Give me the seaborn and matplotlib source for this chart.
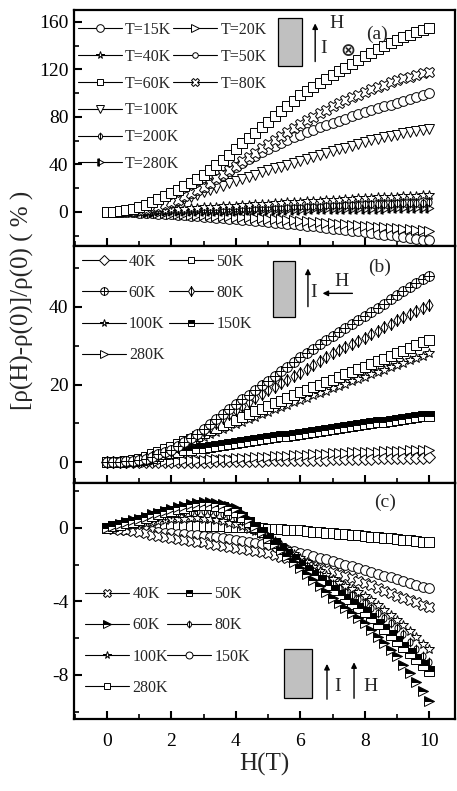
import numpy as np
import pandas as pd
import seaborn as sns
import matplotlib.pyplot as plt
from matplotlib.path import Path
from matplotlib.lines import Line2D
from matplotlib.patches import Rectangle
from matplotlib.ticker import MultipleLocator

# magnetic field grid (T)
H = [0, 0.2, 0.4, 0.6, 0.8, 1, 1.2, 1.4, 1.6, 1.8, 2, 2.2, 2.4, 2.6, 2.8,
     3, 3.2, 3.4, 3.6, 3.8, 4, 4.2, 4.4, 4.6, 4.8, 5, 5.2, 5.4, 5.6, 5.8,
     6, 6.2, 6.4, 6.6, 6.8, 7, 7.2, 7.4, 7.6, 7.8, 8, 8.2, 8.4, 8.6, 8.8,
     9, 9.2, 9.4, 9.6, 9.8, 10]

# panel (a): I up, H perpendicular (into page)
a_15K = [0, -0.05, -0.15, -0.3, -0.45, -0.6, -0.85, -1.1, -1.4, -1.7,
         -2, -2.4, -2.8, -3.2, -3.6, -4, -4.4, -4.8, -5.2, -5.6,
         -6, -6.5, -7, -7.5, -8, -8.5, -9, -9.5, -10, -10.5,
         -11, -11.6, -12.2, -12.8, -13.4, -14, -14.6, -15.2, -15.8, -16.4,
         -17, -17.7, -18.4, -19.1, -19.8, -20.5, -21.2, -21.9, -22.6, -23.3, -24]
a_20K = [0, -0.05, -0.15, -0.25, -0.35, -0.5, -0.7, -0.9, -1.1, -1.3,
         -1.5, -1.75, -2, -2.3, -2.55, -2.8, -3.05, -3.3, -3.5, -3.75,
         -4, -4.35, -4.7, -5, -5.35, -5.7, -6.05, -6.4, -6.8, -7.15,
         -7.5, -7.9, -8.3, -8.7, -9.1, -9.5, -9.9, -10.3, -10.7, -11.1,
         -11.5, -11.95, -12.4, -12.8, -13.25, -13.7, -14.15, -14.6, -15.1, -15.55, -16]
a_40K = [0, 0.05, 0.15, 0.3, 0.5, 0.7, 0.95, 1.25, 1.55, 1.8,
         2.1, 2.4, 2.7, 3.1, 3.4, 3.7, 4, 4.3, 4.7, 5,
         5.3, 5.6, 5.9, 6.3, 6.6, 6.9, 7.2, 7.5, 7.9, 8.2,
         8.5, 8.8, 9.1, 9.5, 9.8, 10.1, 10.4, 10.7, 11.1, 11.4,
         11.7, 11.9, 12.2, 12.4, 12.7, 12.9, 13.1, 13.3, 13.6, 13.8, 14]
a_50K = [0, 0.1, 0.3, 0.6, 1, 1.5, 2.5, 3.8, 5.2, 6.6,
         8, 10.4, 13, 15.6, 18.3, 21, 24.5, 28, 31.4, 34.7,
         38, 41.2, 44.3, 47.3, 50.2, 53, 55.5, 58, 60.5, 62.8,
         65, 67.1, 69.1, 71.1, 73.1, 75, 76.8, 78.6, 80.4, 82.2,
         84, 85.6, 87.2, 88.8, 90.4, 92, 93.6, 95.2, 96.8, 98.4, 100]
a_60K = [0, 0.2, 0.7, 1.6, 2.7, 4, 5.9, 8.2, 10.8, 13.3,
         16, 18.8, 21.7, 24.7, 27.8, 31, 35, 39.3, 43.7, 48.3,
         53, 57.6, 62.2, 66.8, 71.4, 76, 80.5, 85, 89.4, 93.7,
         98, 101.6, 105.1, 108.5, 111.8, 115, 118.2, 121.4, 124.6, 127.8,
         131, 134, 136.9, 139.7, 142.4, 145, 147.2, 149.3, 151.3, 153.2, 155]
a_80K = [0, 0.1, 0.3, 0.6, 1, 1.5, 2.5, 3.8, 5.2, 6.6,
         8, 10.4, 13, 15.6, 18.3, 21, 24.6, 28.2, 31.8, 35.4,
         39, 42.6, 46.2, 49.8, 53.4, 57, 60.5, 63.9, 67.3, 70.7,
         74, 77.1, 80.2, 83.2, 86.1, 89, 91.5, 94, 96.5, 98.8,
         101, 103.1, 105.1, 107.1, 109.1, 111, 112.5, 113.9, 115.3, 116.7, 118]
a_100K = [0, 0.1, 0.3, 0.6, 1, 1.5, 2.4, 3.5, 4.6, 5.8,
          7, 8.8, 10.7, 12.6, 14.5, 16.5, 18.4, 20.3, 22.2, 24.1,
          26, 27.8, 29.6, 31.4, 33.2, 35, 36.6, 38.2, 39.8, 41.4,
          43, 44.6, 46.2, 47.8, 49.4, 51, 52.6, 54.2, 55.8, 57.4,
          59, 60.3, 61.5, 62.7, 63.9, 65, 66, 67, 68, 69, 70]
a_200K = [0, 0.1, 0.2, 0.35, 0.5, 0.7, 0.85, 1, 1.2, 1.35,
          1.5, 1.7, 1.85, 2, 2.2, 2.3, 2.5, 2.65, 2.8, 3,
          3.1, 3.3, 3.45, 3.6, 3.8, 3.9, 4.1, 4.25, 4.4, 4.6,
          4.7, 4.9, 5.05, 5.2, 5.4, 5.5, 5.7, 5.85, 6, 6.2,
          6.3, 6.45, 6.6, 6.8, 6.95, 7.1, 7.3, 7.5, 7.65, 7.8, 8]
a_280K = [0, 0, 0.05, 0.1, 0.15, 0.2, 0.25, 0.3, 0.35, 0.4,
          0.5, 0.55, 0.6, 0.7, 0.75, 0.8, 0.9, 0.95, 1, 1.1,
          1.15, 1.2, 1.3, 1.35, 1.4, 1.5, 1.55, 1.65, 1.7, 1.8,
          1.85, 1.9, 2, 2.05, 2.15, 2.2, 2.3, 2.35, 2.45, 2.5,
          2.6, 2.65, 2.75, 2.8, 2.9, 3, 3.05, 3.15, 3.25, 3.3, 3.4]

# panel (b): I up, H in-plane perpendicular
b_40K = [0, 0, 0, 0, 0, 0, 0, 0.05, 0.05, 0.1,
         0.1, 0.1, 0.15, 0.15, 0.2, 0.2, 0.2, 0.25, 0.25, 0.3,
         0.3, 0.35, 0.4, 0.45, 0.45, 0.5, 0.5, 0.55, 0.55, 0.6,
         0.6, 0.65, 0.7, 0.7, 0.75, 0.8, 0.85, 0.9, 0.9, 0.95,
         1, 1, 1.05, 1.05, 1.1, 1.1, 1.15, 1.2, 1.2, 1.25, 1.3]
b_50K = [0, 0.05, 0.15, 0.3, 0.5, 0.8, 1.4, 2.1, 2.7, 3.4,
         4, 4.7, 5.4, 6.1, 6.8, 7.5, 8.2, 8.9, 9.6, 10.3,
         11, 11.7, 12.4, 13.1, 13.8, 14.5, 15.2, 15.9, 16.6, 17.3,
         18, 18.6, 19.3, 19.9, 20.6, 21.2, 21.9, 22.6, 23.2, 23.9,
         24.6, 25.3, 26, 26.6, 27.3, 28, 28.7, 29.4, 30.1, 30.8, 31.5]
b_60K = [0, 0.05, 0.1, 0.25, 0.4, 0.6, 1, 1.5, 2.1, 2.7,
         3.3, 4.3, 5.3, 6.4, 7.4, 8.5, 9.8, 11.1, 12.4, 13.7,
         15, 16.2, 17.4, 18.6, 19.8, 21, 22.2, 23.4, 24.6, 25.8,
         27, 28.1, 29.2, 30.3, 31.4, 32.5, 33.5, 34.5, 35.5, 36.5,
         37.5, 38.6, 39.7, 40.8, 41.9, 43, 44, 45, 46, 47, 48]
b_80K = [0, 0.05, 0.1, 0.2, 0.35, 0.5, 0.9, 1.4, 1.9, 2.4,
         3, 4, 5, 6, 7, 8, 9.1, 10.2, 11.3, 12.4,
         13.5, 14.5, 15.5, 16.5, 17.5, 18.5, 19.4, 20.3, 21.2, 22.1,
         23, 24, 25, 26, 27, 28, 28.8, 29.6, 30.4, 31.2,
         32, 32.9, 33.8, 34.7, 35.6, 36.5, 37.3, 38.1, 38.9, 39.7, 40.5]
b_100K = [0, 0.05, 0.15, 0.3, 0.5, 0.7, 1.2, 1.8, 2.4, 2.9,
          3.5, 4.1, 4.7, 5.3, 5.9, 6.5, 7.2, 7.8, 8.5, 9.1,
          9.8, 10.4, 11.1, 11.7, 12.4, 13, 13.6, 14.2, 14.8, 15.4,
          16, 16.6, 17.2, 17.8, 18.4, 19, 19.6, 20.2, 20.8, 21.4,
          22, 22.6, 23.2, 23.8, 24.4, 25, 25.6, 26.2, 26.8, 27.4, 28]
b_150K = [0, 0.05, 0.15, 0.25, 0.35, 0.5, 0.8, 1.2, 1.7, 2.1,
          2.5, 2.8, 3.1, 3.3, 3.6, 3.8, 4.05, 4.3, 4.5, 4.75,
          5, 5.25, 5.5, 5.7, 5.95, 6.2, 6.45, 6.7, 6.9, 7.15,
          7.4, 7.65, 7.9, 8.1, 8.35, 8.6, 8.85, 9.1, 9.3, 9.55,
          9.8, 10.05, 10.3, 10.5, 10.75, 11, 11.2, 11.4, 11.6, 11.8, 12]
b_280K = [0, 0, 0.05, 0.1, 0.1, 0.15, 0.2, 0.25, 0.3, 0.35,
          0.4, 0.45, 0.5, 0.6, 0.65, 0.7, 0.8, 0.85, 0.95, 1,
          1.1, 1.2, 1.25, 1.35, 1.4, 1.5, 1.6, 1.65, 1.75, 1.8,
          1.9, 2, 2.05, 2.15, 2.2, 2.3, 2.4, 2.45, 2.55, 2.6,
          2.7, 2.75, 2.8, 2.9, 2.95, 3, 3.05, 3.1, 3.2, 3.25, 3.3]

# panel (c): I and H parallel
c_40K = [0, -0.05, -0.1, -0.15, -0.2, -0.25, -0.31, -0.37, -0.43, -0.49,
         -0.55, -0.6, -0.65, -0.7, -0.75, -0.8, -0.86, -0.92, -0.98, -1.04,
         -1.1, -1.16, -1.22, -1.28, -1.34, -1.4, -1.49, -1.58, -1.67, -1.76,
         -1.85, -1.96, -2.07, -2.18, -2.29, -2.4, -2.52, -2.64, -2.76, -2.88,
         -3, -3.14, -3.28, -3.42, -3.56, -3.7, -3.82, -3.94, -4.06, -4.18, -4.3]
c_50K = [0, 0.08, 0.16, 0.25, 0.33, 0.42, 0.53, 0.63, 0.73, 0.83,
         0.92, 1.01, 1.09, 1.16, 1.21, 1.24, 1.25, 1.2, 1.11, 0.99,
         0.85, 0.6, 0.33, 0.02, -0.25, -0.55, -0.84, -1.13, -1.42, -1.71,
         -2, -2.28, -2.56, -2.84, -3.12, -3.4, -3.64, -3.88, -4.12, -4.36,
         -4.6, -4.91, -5.22, -5.53, -5.84, -6.15, -6.48, -6.81, -7.14, -7.47, -7.8]
c_60K = [0, 0.1, 0.2, 0.3, 0.4, 0.5, 0.61, 0.72, 0.82, 0.92,
         1.02, 1.11, 1.2, 1.28, 1.34, 1.38, 1.4, 1.36, 1.28, 1.17,
         1.05, 0.78, 0.47, 0.1, -0.25, -0.55, -0.88, -1.21, -1.54, -1.87,
         -2.2, -2.52, -2.84, -3.16, -3.48, -3.8, -4.08, -4.36, -4.64, -4.92,
         -5.2, -5.56, -5.92, -6.28, -6.64, -7, -7.45, -7.9, -8.4, -8.9, -9.4]
c_80K = [0, 0.07, 0.14, 0.21, 0.28, 0.35, 0.43, 0.51, 0.59, 0.66,
         0.72, 0.78, 0.83, 0.87, 0.89, 0.9, 0.89, 0.84, 0.75, 0.65,
         0.55, 0.37, 0.15, -0.1, -0.3, -0.5, -0.77, -1.04, -1.31, -1.58,
         -1.85, -2.09, -2.33, -2.57, -2.81, -3.05, -3.26, -3.47, -3.68, -3.89,
         -4.1, -4.37, -4.64, -4.91, -5.18, -5.45, -5.8, -6.2, -6.6, -6.95, -7.3]
c_100K = [0, 0.04, 0.08, 0.12, 0.16, 0.2, 0.26, 0.32, 0.37, 0.41,
          0.45, 0.48, 0.5, 0.51, 0.51, 0.5, 0.47, 0.41, 0.34, 0.27,
          0.2, 0.08, -0.06, -0.2, -0.35, -0.5, -0.72, -0.95, -1.18, -1.41,
          -1.65, -1.88, -2.11, -2.34, -2.57, -2.8, -2.98, -3.16, -3.34, -3.52,
          -3.7, -3.95, -4.2, -4.45, -4.72, -5, -5.3, -5.6, -5.95, -6.3, -6.6]
c_150K = [0, -0.02, -0.04, -0.06, -0.08, -0.1, -0.14, -0.18, -0.22, -0.26,
          -0.3, -0.33, -0.36, -0.39, -0.42, -0.45, -0.49, -0.53, -0.57, -0.61,
          -0.65, -0.71, -0.77, -0.83, -0.89, -0.95, -1.03, -1.11, -1.19, -1.27,
          -1.35, -1.44, -1.53, -1.62, -1.71, -1.8, -1.9, -2, -2.1, -2.2,
          -2.3, -2.4, -2.5, -2.6, -2.7, -2.8, -2.9, -3, -3.1, -3.2, -3.3]
c_280K = [0, 0.02, 0.04, 0.06, 0.07, 0.08, 0.09, 0.1, 0.11, 0.12,
          0.12, 0.12, 0.12, 0.12, 0.11, 0.1, 0.09, 0.08, 0.07, 0.06,
          0.05, 0.04, 0.02, 0, -0.02, -0.05, -0.07, -0.09, -0.11, -0.13,
          -0.15, -0.18, -0.21, -0.24, -0.27, -0.3, -0.33, -0.36, -0.39, -0.42,
          -0.45, -0.48, -0.51, -0.54, -0.57, -0.6, -0.64, -0.68, -0.72, -0.76, -0.8]


# custom open markers
def seg(p0, p1):
    return Path([p0, p1], [Path.MOVETO, Path.LINETO])


circ = Path.unit_circle()
narrow_circ = Path(circ.vertices * [0.7, 1.0], circ.codes)
phi_m = Path.make_compound_path(narrow_circ, seg((0, -1.35), (0, 1.35)))
oplus_m = Path.make_compound_path(circ, seg((0, -1), (0, 1)), seg((-1, 0), (1, 0)))
diam_bar_m = Path.make_compound_path(Path([(0, -1), (0.6, 0), (0, 1), (-0.6, 0), (0, -1)], closed=True),
                                     seg((0, -1), (0, 1)))
tri_bar_m = Path.make_compound_path(Path([(-0.8, -1), (1, 0), (-0.8, 1), (-0.8, -1)], closed=True),
                                    seg((-0.35, -1.2), (-0.35, 1.2)), seg((-0.55, -1.1), (-0.55, 1.1)))

sns.set_style('ticks')
plt.rcParams['font.family'] = ['Liberation Serif', 'DejaVu Serif']
plt.rcParams['axes.unicode_minus'] = False

fig = plt.figure(figsize=(4.57, 7.91), dpi=100)
gs = fig.add_gridspec(3, 1, left=0.162, right=0.9956, top=0.9874, bottom=0.091, hspace=0)
axes = [fig.add_subplot(gs[i]) for i in range(3)]


def draw(ax, y, marker, ms=6.5, fs='full', fc='white', alt='white'):
    sns.lineplot(x=H, y=y, ax=ax, marker=marker, markersize=ms, markerfacecolor=fc,
                 markerfacecoloralt=alt, fillstyle=fs, markeredgecolor='black',
                 markeredgewidth=0.7, linestyle='none', color='black',
                 estimator=None, sort=False, legend=False)


def handle(marker, ms=5.0, fs='full', fc='white', alt='white'):
    return Line2D([0], [0], color='black', lw=0.8, marker=marker, markersize=ms,
                  markerfacecolor=fc, markerfacecoloralt=alt, fillstyle=fs,
                  markeredgecolor='black', markeredgewidth=0.7)


def two_legends(ax, col1, col2, y0, x1, x2, spacing):
    kw = dict(loc='upper left', frameon=False, fontsize=11.5, handlelength=2.75,
              handletextpad=0.2, labelspacing=spacing, borderpad=0, borderaxespad=0)
    l1 = ax.legend(handles=[h for h, _ in col1], labels=[t for _, t in col1],
                   bbox_to_anchor=(x1, y0), **kw)
    ax.add_artist(l1)
    ax.legend(handles=[h for h, _ in col2], labels=[t for _, t in col2],
              bbox_to_anchor=(x2, y0), **kw)


# ---- panel (a)
ax = axes[0]
draw(ax, a_15K, 'o', 7)
draw(ax, a_20K, '>', 7)
draw(ax, a_280K, tri_bar_m, 7.5)
draw(ax, a_200K, phi_m, 7)
draw(ax, a_40K, '*', 7)
draw(ax, a_100K, 'v', 7.5)
draw(ax, a_50K, 'o', 7)
draw(ax, a_80K, 'X', 7.5)
draw(ax, a_60K, 's', 7)
ax.set_ylim(-29, 170)
ax.yaxis.set_major_locator(MultipleLocator(40))
ax.yaxis.set_minor_locator(MultipleLocator(20))
two_legends(ax,
            [(handle('o', 5.5), 'T=15K'), (handle('*', 5.5), 'T=40K'), (handle('s', 4.5), 'T=60K'),
             (handle('v', 5.5), 'T=100K'), (handle(phi_m, 5.5), 'T=200K'), (handle(tri_bar_m, 6), 'T=280K')],
            [(handle('>', 5.5), 'T=20K'), (handle('o', 4), 'T=50K'), (handle('X', 5.5), 'T=80K')],
            0.95, 0.01, 0.26, 0.68)
ax.add_patch(Rectangle((0.535, 0.763), 0.063, 0.203, transform=ax.transAxes,
                       facecolor='#c0c0c0', edgecolor='black', lw=0.9))
ax.annotate('', xy=(0.633, 0.955), xytext=(0.633, 0.77), xycoords='axes fraction',
            arrowprops=dict(arrowstyle='-|>', color='black', lw=1, mutation_scale=8))
ax.text(0.655, 0.839, 'I', transform=ax.transAxes, fontsize=14, ha='center', va='center')
ax.text(0.69, 0.941, 'H', transform=ax.transAxes, fontsize=14, ha='center', va='center')
ax.text(0.72, 0.826, '⊗', transform=ax.transAxes, fontsize=13, ha='center', va='center',
        family=['DejaVu Sans'], fontweight='bold')
ax.text(0.795, 0.898, '(a)', transform=ax.transAxes, fontsize=14, ha='center', va='center')

# ---- panel (b)
ax = axes[1]
draw(ax, b_40K, 'D', 6.5)
draw(ax, b_280K, '>', 7)
draw(ax, b_150K, 's', 6.5, fs='top', fc='black', alt='white')
draw(ax, b_100K, '*', 7)
draw(ax, b_50K, 's', 7)
draw(ax, b_80K, diam_bar_m, 8.5)
draw(ax, b_60K, oplus_m, 7)
ax.set_ylim(-5.2, 55.5)
ax.yaxis.set_major_locator(MultipleLocator(20))
ax.yaxis.set_minor_locator(MultipleLocator(10))
two_legends(ax,
            [(handle('D', 5), '40K'), (handle(oplus_m, 5.5), '60K'), (handle('*', 5.5), '100K'),
             (handle('>', 5.5), '280K')],
            [(handle('s', 4.5), '50K'), (handle(diam_bar_m, 7), '80K'),
             (handle('s', 4.5, fs='top', fc='black'), '150K')],
            0.968, 0.02, 0.25, 0.95)
ax.add_patch(Rectangle((0.522, 0.703), 0.058, 0.233, transform=ax.transAxes,
                       facecolor='#c0c0c0', edgecolor='black', lw=0.9))
ax.annotate('', xy=(0.614, 0.918), xytext=(0.614, 0.733), xycoords='axes fraction',
            arrowprops=dict(arrowstyle='-|>', color='black', lw=1, mutation_scale=8))
ax.annotate('', xy=(0.645, 0.801), xytext=(0.738, 0.801), xycoords='axes fraction',
            arrowprops=dict(arrowstyle='-|>', color='black', lw=1, mutation_scale=8))
ax.text(0.63, 0.805, 'I', transform=ax.transAxes, fontsize=14, ha='center', va='center')
ax.text(0.703, 0.852, 'H', transform=ax.transAxes, fontsize=14, ha='center', va='center')
ax.text(0.803, 0.911, '(b)', transform=ax.transAxes, fontsize=14, ha='center', va='center')

# ---- panel (c)
ax = axes[2]
draw(ax, c_280K, 's', 7)
draw(ax, c_150K, 'o', 7)
draw(ax, c_40K, 'X', 7.5)
draw(ax, c_100K, '*', 7)
draw(ax, c_80K, phi_m, 7)
draw(ax, c_50K, 's', 7, fs='top', fc='black', alt='white')
draw(ax, c_60K, '>', 7.5, fs='top', fc='black', alt='white')
ax.set_ylim(-10.4, 2.45)
ax.yaxis.set_major_locator(MultipleLocator(4))
ax.yaxis.set_minor_locator(MultipleLocator(2))
two_legends(ax,
            [(handle('X', 5.5), '40K'), (handle('>', 6, fs='top', fc='black'), '60K'),
             (handle('*', 5.5), '100K'), (handle('s', 4.5), '280K')],
            [(handle('s', 4.5, fs='top', fc='black'), '50K'), (handle(phi_m, 5.5), '80K'),
             (handle('o', 5), '150K')],
            0.562, 0.03, 0.245, 0.95)
ax.add_patch(Rectangle((0.551, 0.089), 0.074, 0.208, transform=ax.transAxes,
                       facecolor='#c0c0c0', edgecolor='black', lw=0.9))
ax.annotate('', xy=(0.664, 0.245), xytext=(0.664, 0.072), xycoords='axes fraction',
            arrowprops=dict(arrowstyle='-|>', color='black', lw=1, mutation_scale=8))
ax.annotate('', xy=(0.735, 0.252), xytext=(0.735, 0.076), xycoords='axes fraction',
            arrowprops=dict(arrowstyle='-|>', color='black', lw=1, mutation_scale=8))
ax.text(0.693, 0.136, 'I', transform=ax.transAxes, fontsize=14, ha='center', va='center')
ax.text(0.777, 0.136, 'H', transform=ax.transAxes, fontsize=14, ha='center', va='center')
ax.text(0.816, 0.915, '(c)', transform=ax.transAxes, fontsize=14, ha='center', va='center')

for i, ax in enumerate(axes):
    ax.set_xlim(-1.02, 10.8)
    ax.xaxis.set_major_locator(MultipleLocator(2))
    ax.xaxis.set_minor_locator(MultipleLocator(1))
    ax.tick_params(which='major', direction='in', length=6, width=1.5, labelsize=14,
                   top=False, right=False, color='black', labelcolor='black')
    ax.tick_params(which='minor', direction='in', length=3.5, width=1.2,
                   top=False, right=False, color='black')
    ax.tick_params(axis='y', pad=4)
    ax.tick_params(axis='x', pad=10)
    ax.set_xlabel('')
    ax.set_ylabel('')
    for sp in ax.spines.values():
        sp.set_linewidth(1.6)
        sp.set_color('black')
    if i < 2:
        ax.tick_params(axis='x', labelbottom=False)

axes[2].set_xlabel('H(T)', fontsize=18, labelpad=2)
fig.text(0.05, 0.62, '[ρ(H)-ρ(0)]/ρ(0) ( % )', rotation=90, ha='center', va='center', fontsize=18)

fig.savefig('out.png', dpi=100)
